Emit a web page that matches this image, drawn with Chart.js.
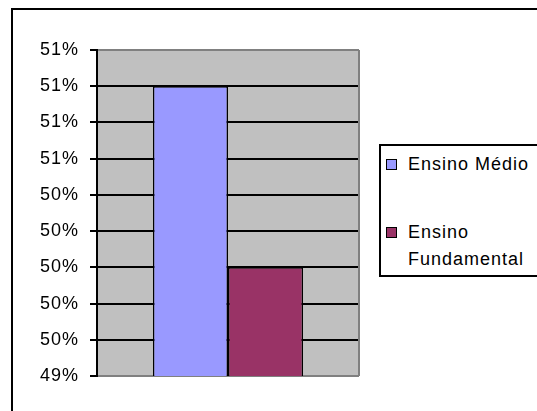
<!DOCTYPE html>
<html>
<head>
<meta charset="utf-8">
<script src="https://cdn.jsdelivr.net/npm/chart.js"></script>
<style>
  body { margin: 0; width: 537px; height: 411px; overflow: hidden; background: #fff; position: relative;
         font-family: "Liberation Sans", Arial, sans-serif; }
  #frame { position: absolute; left: 11px; top: 8px; width: 600px; height: 500px; border: 2px solid #000; }
  #myChart { position: absolute; left: 0; top: 0; }
  #legend { position: absolute; left: 379px; top: 144px; width: 175px; height: 133px; box-sizing: border-box;
            border: 2px solid #000; background: #fff; }
  .mark { position: absolute; left: 386px; width: 11px; height: 11px; box-sizing: border-box; border: 1px solid #000; }
  .txt { position: absolute; left: 408px; width: 135px; font-size: 18px; line-height: 27px; letter-spacing: 1px; color: #000; }
</style>
</head>
<body>
<div id="frame"></div>
<canvas id="myChart" width="537" height="411"></canvas>
<div id="legend"></div>
<script>
const categories = [''];
const seriesNames = ['Ensino Médio', 'Ensino Fundamental'];
const seriesValues = [51.0, 50.0];
const yRange = [49.4, 51.2];
const yStep = 0.2;

const colors = ['#9999FF', '#993366'];

const plotBg = {
  id: 'plotBg',
  beforeUpdate(chart) { chart.ctx.letterSpacing = '1px'; },
  beforeDraw(chart) {
    const { ctx, chartArea: a } = chart;
    ctx.letterSpacing = '1px';
    ctx.save();
    ctx.fillStyle = '#C0C0C0';
    ctx.fillRect(a.left, a.top, a.right - a.left, a.bottom - a.top);
    ctx.restore();
  },
  beforeDatasetsDraw(chart) {
    const { ctx, chartArea: a } = chart;
    ctx.save();
    ctx.strokeStyle = '#808080';
    ctx.lineWidth = 2;
    ctx.beginPath();
    ctx.moveTo(a.right, a.top);
    ctx.lineTo(a.right, a.bottom);
    ctx.stroke();
    ctx.restore();
  }
};

const chart = new Chart(document.getElementById('myChart'), {
  type: 'bar',
  data: {
    labels: categories,
    datasets: seriesNames.map((name, i) => ({
      label: name,
      data: [seriesValues[i]],
      backgroundColor: colors[i],
      borderColor: '#000',
      borderWidth: 1.5,
      categoryPercentage: 0.573,
      barPercentage: 1
    }))
  },
  options: {
    responsive: false,
    animation: false,
    layout: { padding: { left: 0, top: 50, right: 178, bottom: 35 } },
    plugins: { legend: { display: false }, tooltip: { enabled: false } },
    scales: {
      x: { display: false },
      y: {
        min: yRange[0],
        max: yRange[1],
        afterFit: s => { s.width = 97; },
        ticks: {
          stepSize: yStep,
          color: '#000',
          padding: 11,
          font: { family: '"Liberation Sans", Arial, sans-serif', size: 18 },
          callback: v => Math.round(v) + '%'
        },
        grid: {
          color: c => (c.index === 0 || c.index === c.scale.ticks.length - 1) ? '#808080' : '#000',
          lineWidth: 2,
          tickLength: 7,
          tickColor: '#000',
          tickWidth: 2
        },
        border: { color: '#000', width: 2 }
      }
    }
  },
  plugins: [plotBg]
});

// legend as html, built from the chart datasets
const tops = [151, 219];
chart.data.datasets.forEach((ds, i) => {
  const m = document.createElement('div');
  m.className = 'mark';
  m.style.top = (tops[i] + 8) + 'px';
  m.style.background = ds.backgroundColor;
  document.body.appendChild(m);
  const t = document.createElement('div');
  t.className = 'txt';
  t.style.top = tops[i] + 'px';
  t.textContent = ds.label;
  document.body.appendChild(t);
});
</script>
</body>
</html>
